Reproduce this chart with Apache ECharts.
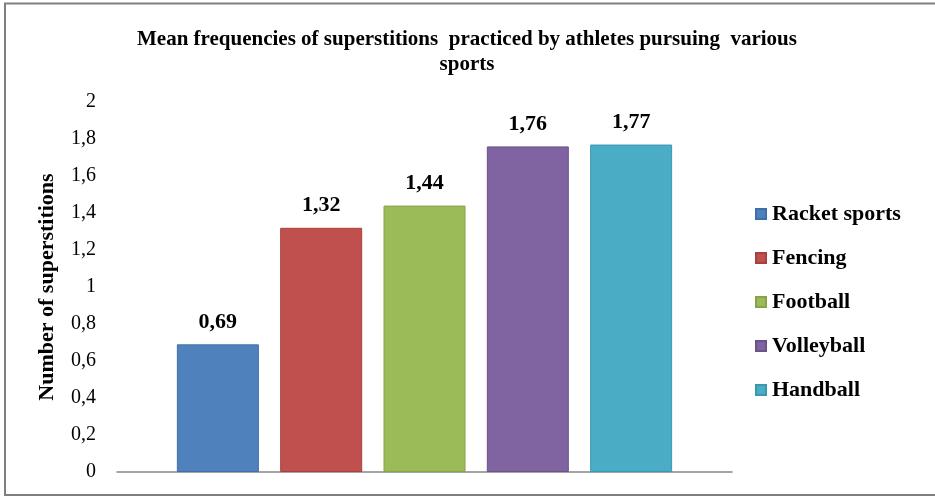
<!DOCTYPE html>
<html>
<head>
<meta charset="utf-8">
<style>
  html, body { margin: 0; padding: 0; background: #ffffff; }
  #chart { width: 935px; height: 497px; }
</style>
<script src="https://cdn.jsdelivr.net/npm/echarts@6/dist/echarts.min.js"></script>
</head>
<body>
<div id="chart"></div>
<script>
// Mean number of superstitions per sport
const sports = ['Racket sports', 'Fencing', 'Football', 'Volleyball', 'Handball'];
const meanValues = [0.69, 1.32, 1.44, 1.76, 1.77];
const sportColors = ['#4F81BD', '#C0504D', '#9BBB59', '#8064A2', '#4BACC6'];
const sportBorders = ['#3F6FA8', '#A8403D', '#86A347', '#6B5289', '#3A97B0'];
const yTicks = ['0', '0,2', '0,4', '0,6', '0,8', '1', '1,2', '1,4', '1,6', '1,8', '2'];

const serif = '"Liberation Serif", "Times New Roman", serif';
const fmt = v => String(v).replace('.', ',');

const chart = echarts.init(document.getElementById('chart'), null, { renderer: 'canvas' });

const series = sports.map((name, i) => ({
  name: name,
  type: 'bar',
  data: [meanValues[i]],
  barWidth: 82,
  barGap: '26%',
  itemStyle: { color: sportColors[i], borderColor: sportBorders[i], borderWidth: 1 },
  label: {
    show: true,
    position: 'top',
    distance: 11,
    fontFamily: serif,
    fontWeight: 'bold',
    fontSize: 22,
    color: '#000',
    formatter: p => fmt(p.value)
  }
}));

chart.setOption({
  animation: false,
  backgroundColor: '#ffffff',
  title: {
    text: 'Mean frequencies of superstitions  practiced by athletes pursuing  various\nsports',
    left: 462,
    top: 22,
    textAlign: 'center',
    textStyle: {
      fontFamily: serif,
      fontWeight: 'bold',
      fontSize: 21,
      lineHeight: 25,
      color: '#000'
    }
  },
  legend: {
    orient: 'vertical',
    left: 750,
    top: 198,
    itemWidth: 10,
    itemHeight: 10,
    itemGap: 22,
    icon: 'rect',
    textStyle: {
      fontFamily: serif,
      fontWeight: 'bold',
      fontSize: 22,
      lineHeight: 22,
      color: '#000',
      padding: [0, 0, 0, 1]
    },
    data: sports
  },
  grid: { left: 117, right: 203, top: 102, bottom: 25, containLabel: false },
  xAxis: {
    type: 'category',
    data: [''],
    axisLine: { lineStyle: { color: '#868686', width: 1.5 } },
    axisTick: { show: false },
    axisLabel: { show: false }
  },
  yAxis: {
    type: 'value',
    min: 0,
    max: 2,
    interval: 0.2,
    name: 'Number of superstitions',
    nameLocation: 'middle',
    nameGap: 59,
    nameRotate: 90,
    nameTextStyle: {
      fontFamily: serif,
      fontWeight: 'bold',
      fontSize: 22,
      color: '#000'
    },
    axisLine: { show: false },
    axisTick: { show: false },
    splitLine: { show: false },
    axisLabel: {
      margin: 21,
      fontFamily: serif,
      fontSize: 20,
      color: '#000',
      formatter: v => yTicks[Math.round(v / 0.2)]
    }
  },
  graphic: [{
    type: 'rect',
    shape: { x: 5, y: 3.5, width: 934, height: 491.5 },
    style: { fill: 'none', stroke: '#7f7f7f', lineWidth: 2 },
    silent: true
  }],
  series: series
});
</script>
</body>
</html>
